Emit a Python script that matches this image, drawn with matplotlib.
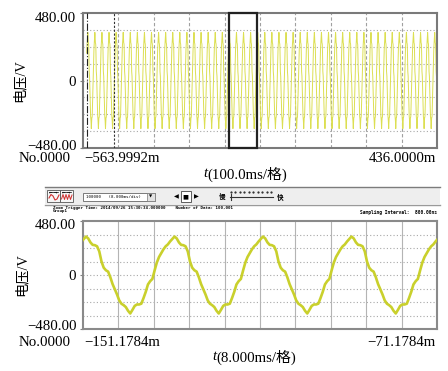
import numpy as np
import matplotlib
matplotlib.use("Agg")
import matplotlib.pyplot as plt
from matplotlib.patches import Rectangle
from matplotlib.transforms import ScaledTranslation

# ---------------- data ----------------
# one cycle of the distorted 50 Hz voltage, sampled every 0.5 ms starting at a positive peak
cycle_step_ms = 0.5
cycle_voltage = [342, 325, 290, 268, 265, 255, 210, 120, 65, 42,
                 30, -20, -80, -125, -172, -225, -255, -268, -285, -318,
                 -342, -310, -275, -262, -262, -255, -205, -150, -84, -55,
                 -35, 40, 110, 160, 195, 228, 255, 272, 298, 320]
first_peak_ms = -150.5          # time of a positive peak (ms)
top_cycles_before = 21          # cycles shown left of that peak in the overview
top_cycles_total = 52
zoom_cycles_before = 1
zoom_cycles_total = 5

top_xlim = (-563.9992, 436.0000)     # ms
zoom_xlim = (-151.1784, -71.1784)    # ms
y_lim = (-480, 480)
y_ticks = [-480, 0, 480]
y_ticklabels = ["\u2212480.00", "0", "480.00"]
grid_levels = [-360, -240, -120, 0, 120, 240, 360]
top_div_ms = 100.0
zoom_div_ms = 8.0
cursor_a_ms = -553.5
cursor_b_ms = -475.6

top_left_label = "\u2212563.9992m"
top_right_label = "436.0000m"
zoom_left_label = "\u2212151.1784m"
zoom_right_label = "\u221271.1784m"
top_unit = "(100.0ms/格)"
zoom_unit = "(8.000ms/格)"
ylabel_text = "电压/V"
no_label = "No.0000"

# ---------------- figure ----------------
W, H = 448, 371
fig = plt.figure(figsize=(W / 100, H / 100), dpi=100)
fig.patch.set_facecolor("white")

SERIF = ["Liberation Serif", "Noto Sans CJK SC", "DejaVu Sans"]
NUM_FS = 10.7


def fx(x):
    return x / W


def fy(y):
    return 1 - y / H


def build_signal(cycles_before, n_cycles):
    v = np.tile(np.asarray(cycle_voltage, float), n_cycles)
    v = np.append(v, cycle_voltage[0])
    period = len(cycle_voltage) * cycle_step_ms
    t0 = first_peak_ms - cycles_before * period
    t = t0 + np.arange(len(v)) * cycle_step_ms
    return t, v


def style_axes(ax, xlim, div, spine_color, vgrid_style, vgrid_color, shifts):
    ax.set_xlim(*xlim)
    ax.set_ylim(*y_lim)
    ax.set_xticks([])
    ax.set_yticks(y_ticks)
    ax.set_yticklabels(y_ticklabels, fontfamily=SERIF, fontsize=NUM_FS)
    ax.tick_params(axis="y", length=2.2, width=0.8, color="#808080", pad=2.6)
    for lab, dy in zip(ax.get_yticklabels(), shifts):
        lab.set_transform(lab.get_transform() +
                          ScaledTranslation(0, dy / 100, fig.dpi_scale_trans))
    for s in ax.spines.values():
        s.set_color(spine_color)
        s.set_linewidth(1.5)
    for lv in grid_levels:
        ax.axhline(lv, color="#a8a8a8", lw=0.8, ls=(0, (1, 2)), zorder=1)
    for k in range(1, 10):
        ax.axvline(xlim[0] + k * div, color=vgrid_color, lw=0.8,
                   ls=vgrid_style, zorder=1)


# top overview axes
ax1 = fig.add_axes([fx(83), fy(148), fx(354), 135 / H])
style_axes(ax1, top_xlim, top_div_ms, "#7a7a7a", (0, (3, 2)), "#a0a0a0",
           shifts=(2.5, 0, -3.5))
t1, v1 = build_signal(top_cycles_before, top_cycles_total)
m = t1 >= cursor_a_ms
ax1.plot(t1[m], v1[m], color="#dcdf52", lw=0.7, zorder=2)
ax1.axvline(cursor_a_ms, color="#222222", lw=0.8, ls="-.", zorder=3)
ax1.axvline(cursor_b_ms, color="#333333", lw=0.8, ls=(0, (2, 1.5)), zorder=3)
ax1.add_patch(Rectangle((zoom_xlim[0], y_lim[0]), zoom_xlim[1] - zoom_xlim[0],
                        y_lim[1] - y_lim[0], fill=False, edgecolor="#222222",
                        lw=1.6, zorder=4, clip_on=False))

# bottom zoom axes
ax2 = fig.add_axes([fx(83), fy(329), fx(354), 108 / H])
style_axes(ax2, zoom_xlim, zoom_div_ms, "#8a8a8a", "-", "#b4b4b4",
           shifts=(3.5, 0, -3.0))
t2, v2 = build_signal(zoom_cycles_before, zoom_cycles_total)
ax2.plot(t2, v2, color="#c9d02c", lw=1.9, zorder=3, solid_joinstyle="round")

# labels around the axes
for (yc, xl, xr, unit, tx, ylab_x, ylab_y) in [
        (159, top_left_label, top_right_label, top_unit, 207, 20, 81),
        (342, zoom_left_label, zoom_right_label, zoom_unit, 216, 22, 275)]:
    fig.text(fx(19), fy(yc), no_label, fontfamily=SERIF, fontsize=NUM_FS,
             ha="left", va="center")
    fig.text(fx(84), fy(yc), xl, fontfamily=SERIF, fontsize=NUM_FS,
             ha="left", va="center")
    fig.text(fx(436), fy(yc), xr, fontfamily=SERIF, fontsize=NUM_FS,
             ha="right", va="center")
    fig.text(fx(tx), fy(yc + 15), "t", fontfamily=SERIF, fontstyle="italic",
             fontsize=NUM_FS, ha="right", va="center")
    fig.text(fx(tx), fy(yc + 15), unit, fontfamily=SERIF, fontsize=NUM_FS,
             ha="left", va="center")
    fig.text(fx(ylab_x), fy(ylab_y), ylabel_text, fontfamily=SERIF,
             fontsize=10.3, rotation=90, ha="center", va="center")

# ---------------- toolbar strip (software UI) ----------------
ui = fig.add_axes([0, 0, 1, 1], zorder=5)
ui.set_xlim(0, W)
ui.set_ylim(H, 0)
ui.axis("off")
ui.patch.set_alpha(0)

ui.add_patch(Rectangle((45, 187), 395, 17, facecolor="#eeeeee", edgecolor="none"))
ui.plot([45, 440], [187, 187], color="#7c7c7c", lw=1.0)
ui.plot([45, 440], [204.5, 204.5], color="#9a9a9a", lw=1.0)

# two icon buttons
for x0 in (47, 60):
    ui.add_patch(Rectangle((x0, 189.5), 12.5, 12.5, facecolor="#f6f6f6",
                           edgecolor="#555555", lw=0.6))
    ui.plot([x0 + 2, x0 + 10.5], [192, 192], color="black", lw=0.5)
ui.plot([49, 51, 53, 55, 57, 59], [198, 194.5, 196, 200, 199, 195], color="#d03030", lw=0.8)
ui.plot([61.5, 63, 64.5, 66, 67.5, 69, 70.5, 72], [199, 194.5, 199.5, 194.5, 199.5, 194.5, 199.5, 195],
        color="#d03030", lw=0.7)
for x0 in (49, 62):
    ui.text(x0, 192, "\u2190", fontsize=3, va="center", ha="left")
    ui.text(x0 + 8.5, 192, "\u2192", fontsize=3, va="center", ha="right")

# combo box
ui.add_patch(Rectangle((83, 192.5), 72, 8.5, facecolor="white", edgecolor="#666666", lw=0.6))
ui.add_patch(Rectangle((147, 193), 7.5, 7.5, facecolor="#e2e2e2", edgecolor="#777777", lw=0.5))
ui.text(150.8, 196.8, "\u25bc", fontsize=3, ha="center", va="center")
ui.text(85.5, 196.8, "100000   (8.000ms/div)", fontfamily="DejaVu Sans Mono",
        fontsize=3.0, ha="left", va="center")

# transport buttons
ui.text(176, 196.5, "\u25c0", fontsize=4.5, ha="center", va="center")
ui.add_patch(Rectangle((180.5, 191), 10, 11, facecolor="white", edgecolor="#444444", lw=0.6))
ui.text(185.5, 196.5, "\u25a0", fontsize=4.5, ha="center", va="center")
ui.text(196, 196.5, "\u25b6", fontsize=4.5, ha="center", va="center")

# speed slider
ui.text(222, 197, "慢", fontfamily=["Noto Sans CJK SC"], fontsize=4.8,
        ha="center", va="center", fontweight="bold")
ui.text(280, 197, "快", fontfamily=["Noto Sans CJK SC"], fontsize=4.8,
        ha="center", va="center", fontweight="bold")
ui.plot(np.linspace(231, 271, 10), [192] * 10, ls="none", marker="s",
        ms=0.6, color="#333333")
ui.plot([230, 273], [197, 197], color="#333333", lw=0.8)
ui.plot([231, 231], [194, 200], color="#333333", lw=0.8)

# info lines
ui.text(53, 207.6, "Zoom Trigger Time: 2014/09/26 15:30:34.000000    Number of Data: 100,001",
        fontfamily="DejaVu Sans Mono", fontsize=3.0, fontweight="bold",
        ha="left", va="center")
ui.text(53, 211.2, "Group1", fontfamily="DejaVu Sans Mono", fontsize=3.0,
        fontweight="bold", ha="left", va="center")
ui.text(437, 212.5, "Sampling Interval:  800.00ns", fontfamily="DejaVu Sans Mono",
        fontsize=3.3, fontweight="bold", ha="right", va="center")

fig.savefig("out.png", dpi=100)
